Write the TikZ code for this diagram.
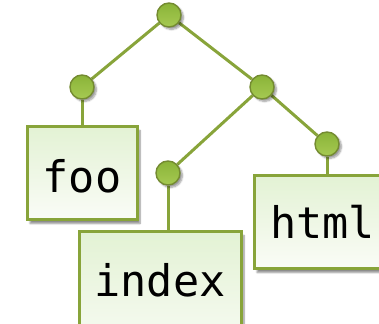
\documentclass[tikz,border=0pt]{standalone}
\usepackage{fontspec}
\setmonofont{DejaVu Sans Mono}
\usetikzlibrary{shadows.blur,backgrounds}
\definecolor{edgegreen}{HTML}{88A43A}
\definecolor{ballgreen}{HTML}{8AB338}
\definecolor{balllight}{HTML}{A6CA52}
\definecolor{boxtop}{HTML}{E3F2D4}
\definecolor{boxbottom}{HTML}{FAFCF7}
\tikzset{
  ball/.style={circle, minimum size=24pt, inner sep=0pt, draw=edgegreen!85!black,
    line width=1.4pt, top color=ballgreen, bottom color=balllight,
    blur shadow={shadow xshift=2.5pt, shadow yshift=-2.5pt, shadow blur steps=7, shadow opacity=40}},
  leaf/.style={rectangle, inner sep=0pt, draw=edgegreen, line width=3pt,
    top color=boxtop, bottom color=boxbottom,
    blur shadow={shadow xshift=3pt, shadow yshift=-3.5pt, shadow blur steps=7, shadow opacity=45}},
  lbl/.style={font=\ttfamily\fontsize{43.5}{50}\selectfont, inner sep=0pt, anchor=base, text=black},
  edge/.style={draw=edgegreen, line width=3pt}
}
\begin{document}
\begin{tikzpicture}[x=1pt,y=1pt]
  \useasboundingbox (0,0) rectangle (379,323);
  % tree nodes
  \node[ball] (root) at (169,308) {};
  \node[ball] (left) at (82,236) {};
  \node[ball] (right) at (262,236) {};
  \node[ball] (idx) at (168,150) {};
  \node[ball] (htm) at (327,179) {};
  % leaf boxes
  \node[leaf, minimum width=110pt, minimum height=93pt] (foobox) at (82,149.5) {};
  \node[lbl] (footxt) at (82,130) {foo};
  \node[leaf, minimum width=162pt, minimum height=130pt] (indexbox) at (160,26) {};
  \node[lbl] (indextxt) at (160,27) {index};
  \node[leaf, minimum width=137pt, minimum height=93pt] (htmlbox) at (322.5,100.5) {};
  \node[lbl] (htmltxt) at (322.5,84) {html};
  % connectors
  \begin{scope}[on background layer]
    \draw[edge] (root) -- (left);
    \draw[edge] (root) -- (right);
    \draw[edge] (right) -- (idx);
    \draw[edge] (right) -- (htm);
    \draw[edge] (left) -- (left |- foobox.north);
    \draw[edge] (idx) -- (idx |- indexbox.north);
    \draw[edge] (htm) -- (htm |- htmlbox.north);
  \end{scope}
\end{tikzpicture}
\end{document}
